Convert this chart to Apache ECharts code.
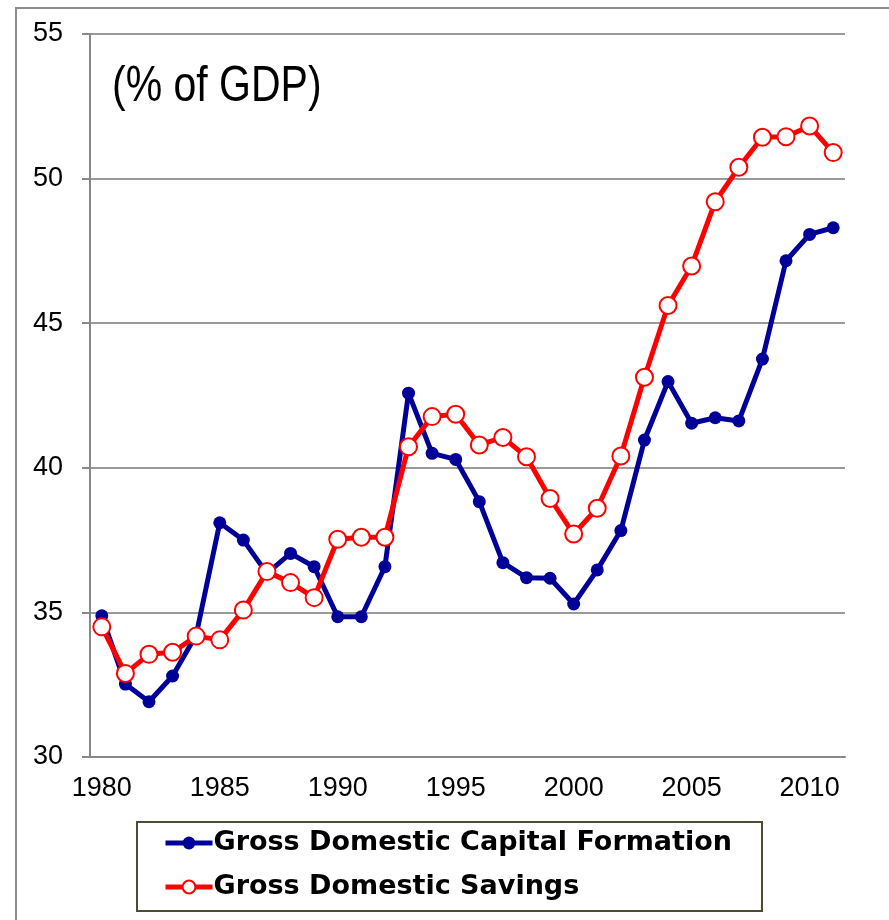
<!DOCTYPE html>
<html>
<head>
<meta charset="utf-8">
<script src="https://cdn.jsdelivr.net/npm/echarts@6/dist/echarts.min.js"></script>
<style>
html,body{margin:0;padding:0;background:#fff;}
#chart{width:889px;height:920px;}
</style>
</head>
<body>
<div id="chart"></div>
<script>
var years = ['1980','1981','1982','1983','1984','1985','1986','1987','1988','1989','1990','1991','1992','1993','1994','1995','1996','1997','1998','1999','2000','2001','2002','2003','2004','2005','2006','2007','2008','2009','2010','2011'];
var capitalFormation = [34.88,32.52,31.91,32.80,34.22,38.10,37.50,36.35,37.04,36.58,34.85,34.85,36.58,42.58,40.50,40.29,38.83,36.72,36.20,36.18,35.29,36.47,37.83,40.96,42.98,41.54,41.73,41.62,43.76,47.16,48.07,48.30];
var savings = [34.50,32.89,33.55,33.62,34.18,34.05,35.08,36.41,36.03,35.51,37.53,37.60,37.60,40.73,41.77,41.85,40.79,41.05,40.38,38.94,37.71,38.60,40.41,43.13,45.61,46.98,49.20,50.39,51.43,51.45,51.82,50.90];
var yTicks = {min:30, max:55, interval:5};
var seriesNames = ['Gross Domestic Capital Formation','Gross Domestic Savings'];
var unitNote = '(% of GDP)';

var chart = echarts.init(document.getElementById('chart'));
chart.setOption({
  animation:false,
  backgroundColor:'#ffffff',
  graphic:[
    {type:'rect', shape:{x:16,y:8,width:900,height:960}, style:{fill:'none',stroke:'#8c8c8c',lineWidth:2}, z:-10},
    {type:'text', x:112, y:62, scaleX:0.82, style:{text:unitNote, font:'50px "Liberation Sans", Arial, sans-serif', fill:'#000'}}
  ],
  grid:{left:90, right:44, top:34, bottom:163},
  legend:{
    orient:'vertical', left:137, top:822,
    padding:[6,30,9,26],
    borderColor:'#4f4b36', borderWidth:2,
    itemWidth:47, itemHeight:16, itemGap:14,
    textStyle:{fontFamily:'"DejaVu Sans", sans-serif', fontWeight:'bold', fontSize:27, color:'#000', lineHeight:30, padding:[0,0,0,-4]},
    data:[
      {name:seriesNames[0], lineStyle:{width:5}},
      {name:seriesNames[1], lineStyle:{width:5}}
    ]
  },
  xAxis:{
    type:'category', data:years, boundaryGap:true,
    axisLine:{lineStyle:{color:'#888', width:2}},
    axisTick:{interval:0, length:8, lineStyle:{color:'#888', width:2}},
    axisLabel:{interval:4, margin:18, fontFamily:'"Liberation Sans", Arial, sans-serif', fontSize:27, color:'#000'}
  },
  yAxis:{
    type:'value', min:yTicks.min, max:yTicks.max, interval:yTicks.interval,
    axisLine:{show:true, lineStyle:{color:'#888', width:2}},
    axisTick:{show:true, length:8, lineStyle:{color:'#888', width:2}},
    axisLabel:{margin:27, fontFamily:'"Liberation Sans", Arial, sans-serif', fontSize:27, color:'#000'},
    splitLine:{lineStyle:{color:'#999', width:2}}
  },
  series:[
    {name:seriesNames[0], type:'line', data:capitalFormation, symbol:'circle', symbolSize:13, showAllSymbol:true,
     lineStyle:{color:'#000099', width:5}, itemStyle:{color:'#000099', borderWidth:0}, z:2},
    {name:seriesNames[1], type:'line', data:savings, symbol:'circle', symbolSize:17, showAllSymbol:true,
     lineStyle:{color:'#ff0000', width:5}, itemStyle:{color:'#ffffff', borderColor:'#ff0000', borderWidth:2}, z:3}
  ]
});
</script>
</body>
</html>
